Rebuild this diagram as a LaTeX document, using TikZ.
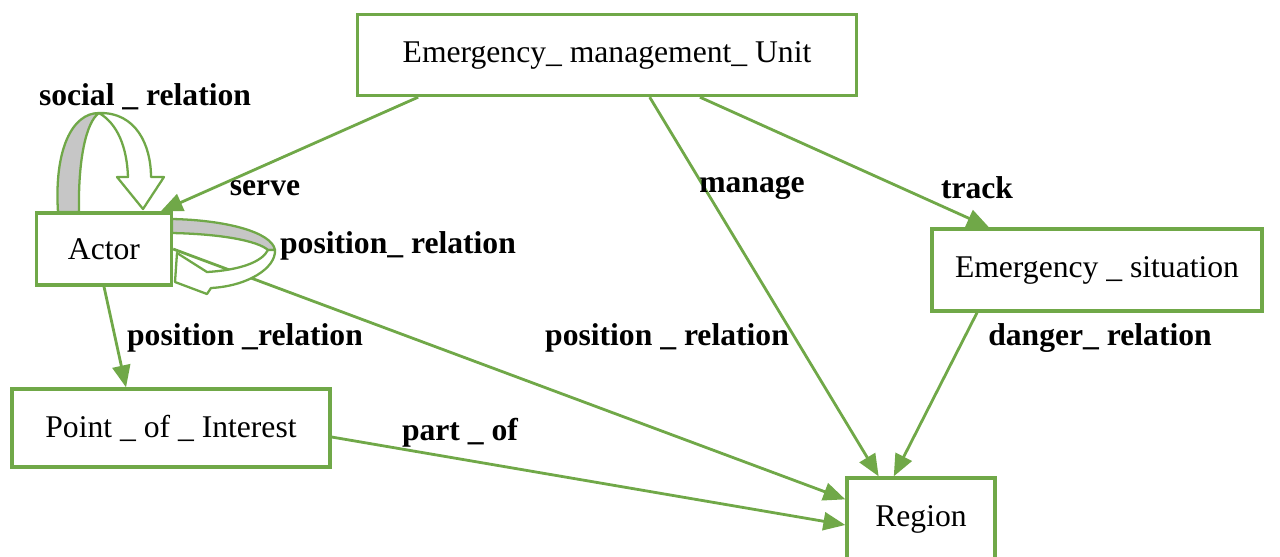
\documentclass[tikz,border=0pt]{standalone}
\usepackage{fontspec}
\setmainfont{Liberation Serif}
\usetikzlibrary{arrows.meta,calc}
\definecolor{grn}{RGB}{112,168,72}

\begin{document}
\begin{tikzpicture}[x=0.02cm,y=-0.02cm,
   box/.style={draw=grn,line width=1.9pt,fill=white,inner sep=0pt,
      font=\fontsize{18}{20}\selectfont},
   rel/.style={draw=grn,line width=1.6pt,-{Triangle[length=0.44cm,width=0.36cm]}},
   lbl/.style={font=\bfseries\fontsize{18}{20}\selectfont,inner sep=0pt},
   band/.style={draw=grn,line width=1.3pt,line join=round}]
\useasboundingbox (0,0) rectangle (1280,556);

% entities
\node[box,minimum width=9.98cm,minimum height=1.62cm] (emu) at (607,55) {Emergency\_ management\_ Unit};
\node[box,minimum width=2.7cm,minimum height=1.44cm] (actor) at (104,249) {Actor};
\node[box,minimum width=6.6cm,minimum height=1.64cm] (sit) at (1097,270) {Emergency \_ situation};
\node[box,minimum width=6.36cm,minimum height=1.56cm] (poi) at (171,428) {Point \_ of \_ Interest};
\node[box,minimum width=2.96cm,minimum height=1.64cm] (region) at (921,519) {Region};

% relations
\draw[rel] ($(emu.south west)!0.124!(emu.south east)$) -- ($(actor.north west)!0.91!(actor.north east)$);
\draw[rel] ($(emu.south west)!0.585!(emu.south east)$) -- ($(region.north west)!0.22!(region.north east)$);
\draw[rel] ($(emu.south west)!0.685!(emu.south east)$) -- ($(sit.north west)!0.176!(sit.north east)$);
\draw[rel] ($(sit.south west)!0.14!(sit.south east)$) -- ($(region.north west)!0.32!(region.north east)$);
\draw[rel] (actor.east) -- ($(region.north west)!0.27!(region.south west)$);
\draw[rel] (actor.south) -- ($(poi.north west)!0.36!(poi.north east)$);
\draw[rel] ($(poi.east)+(0,9)$) -- ($(region.north west)!0.57!(region.south west)$);

% self relations of the actor
\filldraw[band,fill=gray!45] (58,212) .. controls (54,150) and (72,113) .. (99,113)
   .. controls (86,122) and (78,160) .. (79,212) -- cycle;
\filldraw[band,fill=white] (99,113) .. controls (136,112) and (151,145) .. (151,177)
   -- (164,177) -- (143,209) -- (117,177) -- (128,177)
   .. controls (127,148) and (118,124) .. (99,113) -- cycle;
\filldraw[band,fill=gray!45] (172,219) .. controls (225,220) and (272,232) .. (275,250)
   -- (268,250) .. controls (258,241) and (222,234) .. (172,233) -- cycle;
\filldraw[band,fill=white] (268,250) .. controls (262,262) and (240,270) .. (207,272)
   -- (177,253) -- (175,282) -- (207,294) -- (211,288)
   .. controls (248,286) and (276,268) .. (275,250) -- cycle;

% labels
\node[lbl] (lsocial) at (145,97) {social \_ relation};
\node[lbl] (lserve) at (265,188) {serve};
\node[lbl] (lposself) at (398,246) {position\_ relation};
\node[lbl] (lmanage) at (752,188) {manage};
\node[lbl] (ltrack) at (977,188) {track};
\node[lbl] (lpospoi) at (245,338) {position \_relation};
\node[lbl] (lposreg) at (667,338) {position \_ relation};
\node[lbl] (ldanger) at (1100,338) {danger\_ relation};
\node[lbl] (lpart) at (460,433) {part \_ of};
\end{tikzpicture}
\end{document}
